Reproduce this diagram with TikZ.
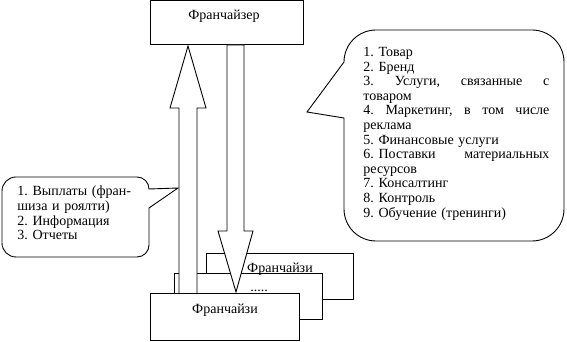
\documentclass[tikz,border=0pt]{standalone}
\usepackage{fontspec}
\setmainfont{Liberation Serif}
\frenchspacing
\begin{document}
\begin{tikzpicture}[x=1pt,y=1pt,line width=0.9pt,
  box/.style={draw,fill=white,line width=0.9pt,inner sep=0pt,anchor=south west},
  lbl/.style={font=\fontsize{14}{14.6}\selectfont,inner sep=0pt},
  blk/.style={draw,fill=white,line join=miter},
  bubble/.style={draw,fill=white,line join=miter}]
\useasboundingbox (0,0) rectangle (567,342);
% right callout
\draw[bubble] (344,224) -- (344,133) arc[start angle=180,end angle=270,radius=32]
  -- (532,101) arc[start angle=270,end angle=360,radius=32]
  -- (564,280) arc[start angle=0,end angle=90,radius=32]
  -- (376,312) arc[start angle=90,end angle=180,radius=32]
  -- (307,230) -- cycle;
% left callout
\draw[bubble] (149,134) -- (149,97) arc[start angle=0,end angle=-90,radius=12]
  -- (16,85) arc[start angle=270,end angle=180,radius=14]
  -- (2,151) arc[start angle=180,end angle=90,radius=14]
  -- (137,165) arc[start angle=90,end angle=0,radius=12]
  -- (178,154) -- cycle;
% boxes
\node[box,minimum width=153,minimum height=44] (fr) at (150,297) {};
\node[box,minimum width=147,minimum height=46] (back) at (206,42) {};
\node[box,minimum width=148,minimum height=46] (mid) at (174,22) {};
% block arrows
\draw[blk] (179,48) -- (179,234) -- (170,234) -- (188,296) -- (206,234) -- (197,234) -- (197,48) -- cycle;
\draw[blk] (227,297) -- (227,111) -- (218,111) -- (236,50) -- (253,111) -- (244,111) -- (244,297) -- cycle;
\node[box,minimum width=149,minimum height=47] (front) at (150,1) {};
% texts
\node[lbl,anchor=base] (frt) at (224,322) {Франчайзер};
\node[lbl,anchor=base] (backt) at (280,69) {Франчайзи};
\node[lbl,anchor=base] (dots) at (259,50) {.....};
\node[lbl,anchor=base] (frontt) at (225,28) {Франчайзи};
\node[lbl,anchor=base west,text width=186] (rt) at (363,285.5) {%
1. Товар\\
2. Бренд\\
3.\hfill Услуги,\hfill связанные\hfill с\\
товаром\\
4.\hfill Маркетинг,\hfill в\hfill том\hfill числе\\
реклама\\
5. Финансовые услуги\\
6. Поставки\hfill материальных\\
ресурсов\\
7. Консалтинг\\
8. Контроль\\
9. Обучение (тренинги)};
\node[lbl,anchor=base west,text width=128] (lt) at (17,146) {1. Выплаты (фран-\\шиза и роялти)\\2. Информация\\3. Отчеты};
\end{tikzpicture}
\end{document}
